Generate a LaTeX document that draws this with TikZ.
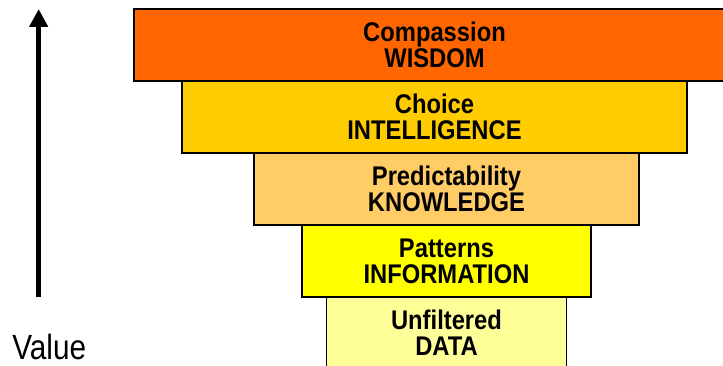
\documentclass[tikz,border=0pt]{standalone}
\usepackage{fontspec}
\usepackage{xcolor}
\usepackage{tikz}
\usetikzlibrary{positioning,arrows.meta}

\newfontfamily\tierfont{Liberation Sans}[FakeStretch=0.88]
\newfontfamily\valfont{Liberation Sans}[FakeStretch=0.85]
\definecolor{wisdomc}{HTML}{FF6600}
\definecolor{intelc}{HTML}{FFCC00}
\definecolor{knowc}{HTML}{FFCC66}
\definecolor{infoc}{HTML}{FFFF00}
\definecolor{datac}{HTML}{FFFF99}

\begin{document}
\begin{tikzpicture}[node distance=54pt,on grid]
        \tikzstyle{tier}=[draw=black,line width=1.2pt,minimum height=54pt,inner sep=0pt,align=center,font=\tierfont\bfseries\fontsize{20.25}{19.5}\selectfont]
        \useasboundingbox (0,0) rectangle (542.25pt,274.5pt);
        \clip (0,0) rectangle (542.25pt,274.5pt);
        \node[tier,fill=wisdomc,minimum width=450.75pt] (Wis) at (325.875pt,240.75pt) {Compassion\\WISDOM};
        \node[tier,fill=intelc,minimum width=378.75pt] (Int) [below=of Wis] {Choice\\INTELLIGENCE};
        \node[tier,fill=knowc,minimum width=288.75pt] (Kno) [below=of Int,xshift=9pt] {Predictability\\KNOWLEDGE};
        \node[tier,fill=infoc,minimum width=216.75pt] (Inf) [below=of Kno] {Patterns\\INFORMATION};
        \node[tier,fill=datac,minimum width=180pt] (Dat) [below=of Inf] {Unfiltered\\DATA};
        \coordinate (Foot) at (29pt,51.75pt);
        \coordinate (Tip) at (29pt,267.75pt);
        \draw[line width=3.75pt,-{Triangle[length=13.5pt,width=13.5pt]}] (Foot) -- (Tip);
        \node[anchor=base west,inner sep=0pt,font=\valfont\fontsize{26.25}{30}\selectfont] (Val) at (9pt,4.5pt) {Value};
    \end{tikzpicture}
\end{document}
